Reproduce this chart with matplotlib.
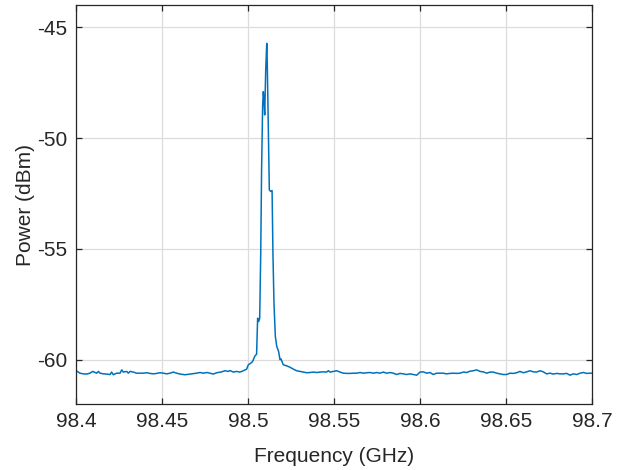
import matplotlib
matplotlib.use('Agg')
import matplotlib.pyplot as plt

plt.rcParams['font.family'] = ['Liberation Sans', 'DejaVu Sans']

# trace (GHz, dBm)
freq_left = [98.4000, 98.4023, 98.4043, 98.4062, 98.4081, 98.4097, 98.4120, 98.4130,
             98.4140, 98.4159, 98.4178, 98.4198, 98.4207, 98.4217, 98.4236, 98.4256,
             98.4266, 98.4275, 98.4295, 98.4304, 98.4314, 98.4333, 98.4353, 98.4372,
             98.4391, 98.4411, 98.4430, 98.4450, 98.4469, 98.4488, 98.4508, 98.4527,
             98.4547, 98.4566, 98.4585, 98.4605, 98.4634, 98.4663, 98.4692, 98.4721,
             98.4740, 98.4760, 98.4779, 98.4798, 98.4818, 98.4847, 98.4866, 98.4886,
             98.4895, 98.4915, 98.4934, 98.4953, 98.4973, 98.4992]
power_left = [-60.49, -60.61, -60.64, -60.65, -60.61, -60.53, -60.61, -60.53,
              -60.61, -60.64, -60.65, -60.67, -60.56, -60.68, -60.61, -60.61,
              -60.46, -60.56, -60.53, -60.61, -60.53, -60.56, -60.61, -60.61,
              -60.61, -60.59, -60.62, -60.64, -60.62, -60.59, -60.61, -60.64,
              -60.61, -60.56, -60.61, -60.65, -60.68, -60.65, -60.62, -60.58,
              -60.61, -60.58, -60.61, -60.65, -60.59, -60.55, -60.50, -60.53,
              -60.49, -60.56, -60.53, -60.56, -60.50, -60.43]

freq_peak = [98.5002, 98.5016, 98.5027, 98.5039, 98.5050, 98.5056, 98.5062, 98.5068,
             98.5074, 98.5079, 98.5085, 98.5089, 98.5093, 98.5097, 98.5103, 98.5109,
             98.5112, 98.5118, 98.5124, 98.5132, 98.5140, 98.5145, 98.5151, 98.5159,
             98.5167, 98.5178, 98.5186, 98.5192]
power_peak = [-60.23, -60.16, -60.08, -59.85, -59.75, -58.13, -58.28, -58.13,
              -55.20, -51.44, -48.58, -47.91, -48.28, -48.96, -46.93, -45.73,
              -46.63, -49.63, -52.34, -52.41, -52.37, -55.20, -57.45, -58.95,
              -59.40, -59.63, -60.00, -59.97]

freq_right = [98.5205, 98.5225, 98.5244, 98.5264, 98.5283, 98.5302, 98.5322, 98.5341,
              98.5360, 98.5380, 98.5399, 98.5419, 98.5438, 98.5457, 98.5467, 98.5477,
              98.5496, 98.5516, 98.5535, 98.5554, 98.5574, 98.5593, 98.5612, 98.5632,
              98.5651, 98.5671, 98.5690, 98.5709, 98.5729, 98.5748, 98.5767, 98.5787,
              98.5806, 98.5826, 98.5845, 98.5864, 98.5884, 98.5903, 98.5922, 98.5942,
              98.5961, 98.5981, 98.6000, 98.6019, 98.6039, 98.6058, 98.6077, 98.6097,
              98.6136, 98.6155, 98.6174, 98.6194, 98.6213, 98.6233, 98.6252, 98.6271,
              98.6291, 98.6310, 98.6329, 98.6349, 98.6368, 98.6388, 98.6407, 98.6426,
              98.6446, 98.6465, 98.6484, 98.6504, 98.6523, 98.6543, 98.6562, 98.6581,
              98.6601, 98.6620, 98.6640, 98.6659, 98.6678, 98.6698, 98.6717, 98.6736,
              98.6756, 98.6775, 98.6795, 98.6814, 98.6833, 98.6853, 98.6872, 98.6891,
              98.6911, 98.6930, 98.6950, 98.6969, 98.6988, 98.7000]
power_right = [-60.23, -60.28, -60.34, -60.43, -60.50, -60.53, -60.56, -60.59,
               -60.58, -60.56, -60.58, -60.56, -60.55, -60.56, -60.50, -60.56,
               -60.53, -60.50, -60.56, -60.61, -60.62, -60.62, -60.61, -60.61,
               -60.58, -60.61, -60.59, -60.58, -60.61, -60.58, -60.61, -60.56,
               -60.61, -60.58, -60.61, -60.67, -60.62, -60.64, -60.67, -60.64,
               -60.67, -60.70, -60.56, -60.55, -60.61, -60.58, -60.67, -60.61,
               -60.61, -60.64, -60.62, -60.61, -60.62, -60.61, -60.56, -60.58,
               -60.52, -60.50, -60.46, -60.53, -60.55, -60.61, -60.56, -60.56,
               -60.61, -60.64, -60.67, -60.67, -60.61, -60.62, -60.59, -60.53,
               -60.59, -60.55, -60.50, -60.55, -60.56, -60.50, -60.55, -60.64,
               -60.61, -60.65, -60.62, -60.64, -60.64, -60.62, -60.70, -60.64,
               -60.67, -60.61, -60.58, -60.62, -60.61, -60.61]

freq = freq_left + freq_peak + freq_right
power = power_left + power_peak + power_right

x_ticks = [98.4, 98.45, 98.5, 98.55, 98.6, 98.65, 98.7]
x_tick_labels = ['98.4', '98.45', '98.5', '98.55', '98.6', '98.65', '98.7']
y_ticks = [-60, -55, -50, -45]

fig = plt.figure(figsize=(6.27, 4.70), dpi=100)
ax = fig.add_axes([76 / 627, 66 / 470, 516 / 627, 399 / 470])

ax.plot(freq, power, color='#0072BD', lw=1.1)

ax.set_xlim(98.4, 98.7)
ax.set_ylim(-62, -44)
ax.set_xticks(x_ticks)
ax.set_xticklabels(x_tick_labels)
ax.set_yticks(y_ticks)
ax.set_yticklabels([str(v) for v in y_ticks])

ax.grid(True, color='#dcdcdc', lw=0.9)
ax.set_axisbelow(True)
for side in ax.spines.values():
    side.set_color('#262626')
    side.set_linewidth(0.9)
ax.tick_params(direction='in', length=4, width=0.9, colors='#262626',
               labelsize=15, top=True, right=True, pad=6)

ax.set_xlabel('Frequency (GHz)', fontsize=15, color='#262626', labelpad=11)
ax.set_ylabel('Power (dBm)', fontsize=15, color='#262626', labelpad=2)

fig.savefig('out.png', dpi=100)
